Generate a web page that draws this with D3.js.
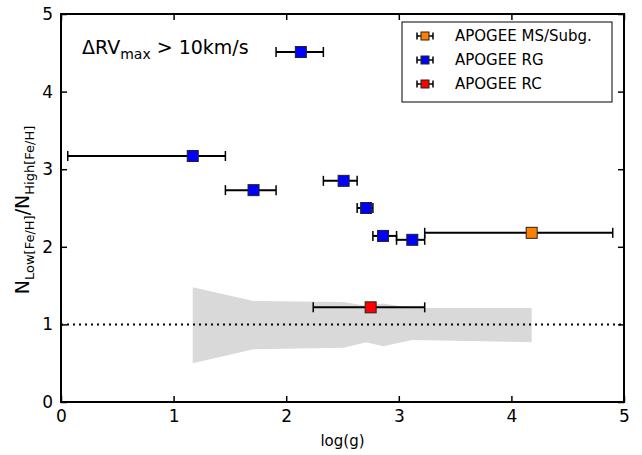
<!DOCTYPE html>
<html>
<head>
<meta charset="utf-8">
<script src="https://cdn.jsdelivr.net/npm/d3@7"></script>
<style>
  body { margin: 0; background: #fff; }
  svg text { font-family: "DejaVu Sans", sans-serif; }
</style>
</head>
<body>
<div id="chart"></div>
<script>
// log(g) of each bin, ratio, and x error bar extents
var rgLogg = [2.13, 1.17, 1.71, 2.51, 2.71, 2.86, 3.12];
var rgRatio = [4.51, 3.17, 2.73, 2.85, 2.50, 2.14, 2.09];
var rgLo = [1.91, 0.06, 1.46, 2.33, 2.63, 2.77, 2.98];
var rgHi = [2.33, 1.46, 1.91, 2.63, 2.77, 2.98, 3.23];

var msLogg = [4.18], msRatio = [2.18], msLo = [3.23], msHi = [4.90];
var rcLogg = [2.75], rcRatio = [1.22], rcLo = [2.24], rcHi = [3.23];

// grey band (expected range)
var bandX = [1.17, 1.71, 2.51, 2.71, 2.86, 3.12, 4.18];
var bandTop = [1.48, 1.30, 1.29, 1.24, 1.27, 1.21, 1.21];
var bandBot = [0.50, 0.68, 0.70, 0.77, 0.72, 0.80, 0.77];

var xTicks = [0, 1, 2, 3, 4, 5];
var yTicks = [0, 1, 2, 3, 4, 5];
var legendLabels = ['APOGEE MS/Subg.', 'APOGEE RG', 'APOGEE RC'];
var legendColors = ['#ff8000', '#0000ff', '#ff0000'];

var W = 642, H = 455;
var m = { left: 61, right: 18, top: 14, bottom: 53 };

var svg = d3.select('#chart').append('svg').attr('width', W).attr('height', H);

var x = d3.scaleLinear().domain([0, 5]).range([m.left, W - m.right]);
var y = d3.scaleLinear().domain([0, 5]).range([H - m.bottom, m.top]);

// band
var band = bandX.map(function (v, i) { return { x: v, t: bandTop[i], b: bandBot[i] }; });
svg.append('path')
  .datum(band)
  .attr('fill', '#d9d9d9')
  .attr('d', d3.area()
    .x(function (d) { return x(d.x); })
    .y0(function (d) { return y(d.b); })
    .y1(function (d) { return y(d.t); }));

// reference line
svg.append('line')
  .attr('x1', x(0)).attr('x2', x(5))
  .attr('y1', y(1)).attr('y2', y(1))
  .attr('stroke', '#000').attr('stroke-width', 2)
  .attr('stroke-dasharray', '2,4');

function series(xs, ys, lo, hi, color) {
  var data = xs.map(function (v, i) { return { x: v, y: ys[i], lo: lo[i], hi: hi[i] }; });
  var g = svg.append('g');
  var e = g.selectAll('g.err').data(data).enter().append('g');
  e.append('line')
    .attr('x1', function (d) { return x(d.lo); })
    .attr('x2', function (d) { return x(d.hi); })
    .attr('y1', function (d) { return y(d.y); })
    .attr('y2', function (d) { return y(d.y); })
    .attr('stroke', '#000').attr('stroke-width', 2);
  ['lo', 'hi'].forEach(function (k) {
    e.append('line')
      .attr('x1', function (d) { return x(d[k]); })
      .attr('x2', function (d) { return x(d[k]); })
      .attr('y1', function (d) { return y(d.y) - 5; })
      .attr('y2', function (d) { return y(d.y) + 5; })
      .attr('stroke', '#000').attr('stroke-width', 1.5);
  });
  g.selectAll('rect').data(data).enter().append('rect')
    .attr('x', function (d) { return x(d.x) - 5.5; })
    .attr('y', function (d) { return y(d.y) - 5.5; })
    .attr('width', 11).attr('height', 11)
    .attr('fill', color)
    .attr('stroke', '#222').attr('stroke-width', 1);
}

series(rgLogg, rgRatio, rgLo, rgHi, legendColors[1]);
series(msLogg, msRatio, msLo, msHi, legendColors[0]);
series(rcLogg, rcRatio, rcLo, rcHi, legendColors[2]);

// frame
svg.append('rect')
  .attr('x', m.left).attr('y', m.top)
  .attr('width', W - m.left - m.right).attr('height', H - m.top - m.bottom)
  .attr('fill', 'none').attr('stroke', '#000').attr('stroke-width', 2);

// axes with inward ticks on all sides
svg.append('g')
  .attr('transform', 'translate(0,' + (H - m.bottom) + ')')
  .call(d3.axisBottom(x).tickValues(xTicks).tickFormat(d3.format('d')).tickSizeInner(-6).tickSizeOuter(0).tickPadding(8));
svg.append('g')
  .attr('transform', 'translate(0,' + m.top + ')')
  .call(d3.axisTop(x).tickValues(xTicks).tickFormat('').tickSizeInner(-6).tickSizeOuter(0));
svg.append('g')
  .attr('transform', 'translate(' + m.left + ',0)')
  .call(d3.axisLeft(y).tickValues(yTicks).tickFormat(d3.format('d')).tickSizeInner(-6).tickSizeOuter(0).tickPadding(8));
svg.append('g')
  .attr('transform', 'translate(' + (W - m.right) + ',0)')
  .call(d3.axisRight(y).tickValues(yTicks).tickFormat('').tickSizeInner(-6).tickSizeOuter(0));

svg.selectAll('.domain').remove();
svg.selectAll('.tick line').attr('stroke', '#000').attr('stroke-width', 1.5);
svg.selectAll('.tick text').attr('font-size', 17).attr('font-family', '"DejaVu Sans", sans-serif').attr('fill', '#000');

// axis labels
svg.append('text')
  .attr('x', (x(0) + x(5)) / 2).attr('y', 446)
  .attr('text-anchor', 'middle').attr('font-size', 15)
  .text('log(g)');

var yl = svg.append('text')
  .attr('transform', 'translate(29,' + ((y(0) + y(5)) / 2 + 2) + ') rotate(-90)')
  .attr('text-anchor', 'middle').attr('font-size', 19);
yl.append('tspan').text('N');
yl.append('tspan').attr('font-size', 13).attr('dy', 5).text('Low[Fe/H]');
yl.append('tspan').attr('dy', -5).text('/N');
yl.append('tspan').attr('font-size', 13).attr('dy', 5).text('High[Fe/H]');

// annotation
var ann = svg.append('text').attr('x', 82).attr('y', 54).attr('font-size', 19);
ann.append('tspan').text('\u0394RV');
ann.append('tspan').attr('font-size', 14).attr('dy', 5).text('max');
ann.append('tspan').attr('dy', -5).text(' > 10km/s');

// legend
var lg = svg.append('g');
lg.append('rect')
  .attr('x', 402).attr('y', 22).attr('width', 210).attr('height', 80)
  .attr('fill', '#fff').attr('stroke', '#000').attr('stroke-width', 1);
legendLabels.forEach(function (lab, i) {
  var cy = 36 + i * 24;
  lg.append('line').attr('x1', 417).attr('x2', 433).attr('y1', cy).attr('y2', cy)
    .attr('stroke', '#000').attr('stroke-width', 1.5);
  [417, 433].forEach(function (cx) {
    lg.append('line').attr('x1', cx).attr('x2', cx).attr('y1', cy - 3.5).attr('y2', cy + 3.5)
      .attr('stroke', '#000').attr('stroke-width', 1.5);
  });
  lg.append('rect').attr('x', 421).attr('y', cy - 4).attr('width', 8).attr('height', 8)
    .attr('fill', legendColors[i]).attr('stroke', '#222').attr('stroke-width', 1);
  lg.append('text').attr('x', 455).attr('y', cy + 5).attr('font-size', 15).text(lab);
});
</script>
</body>
</html>
